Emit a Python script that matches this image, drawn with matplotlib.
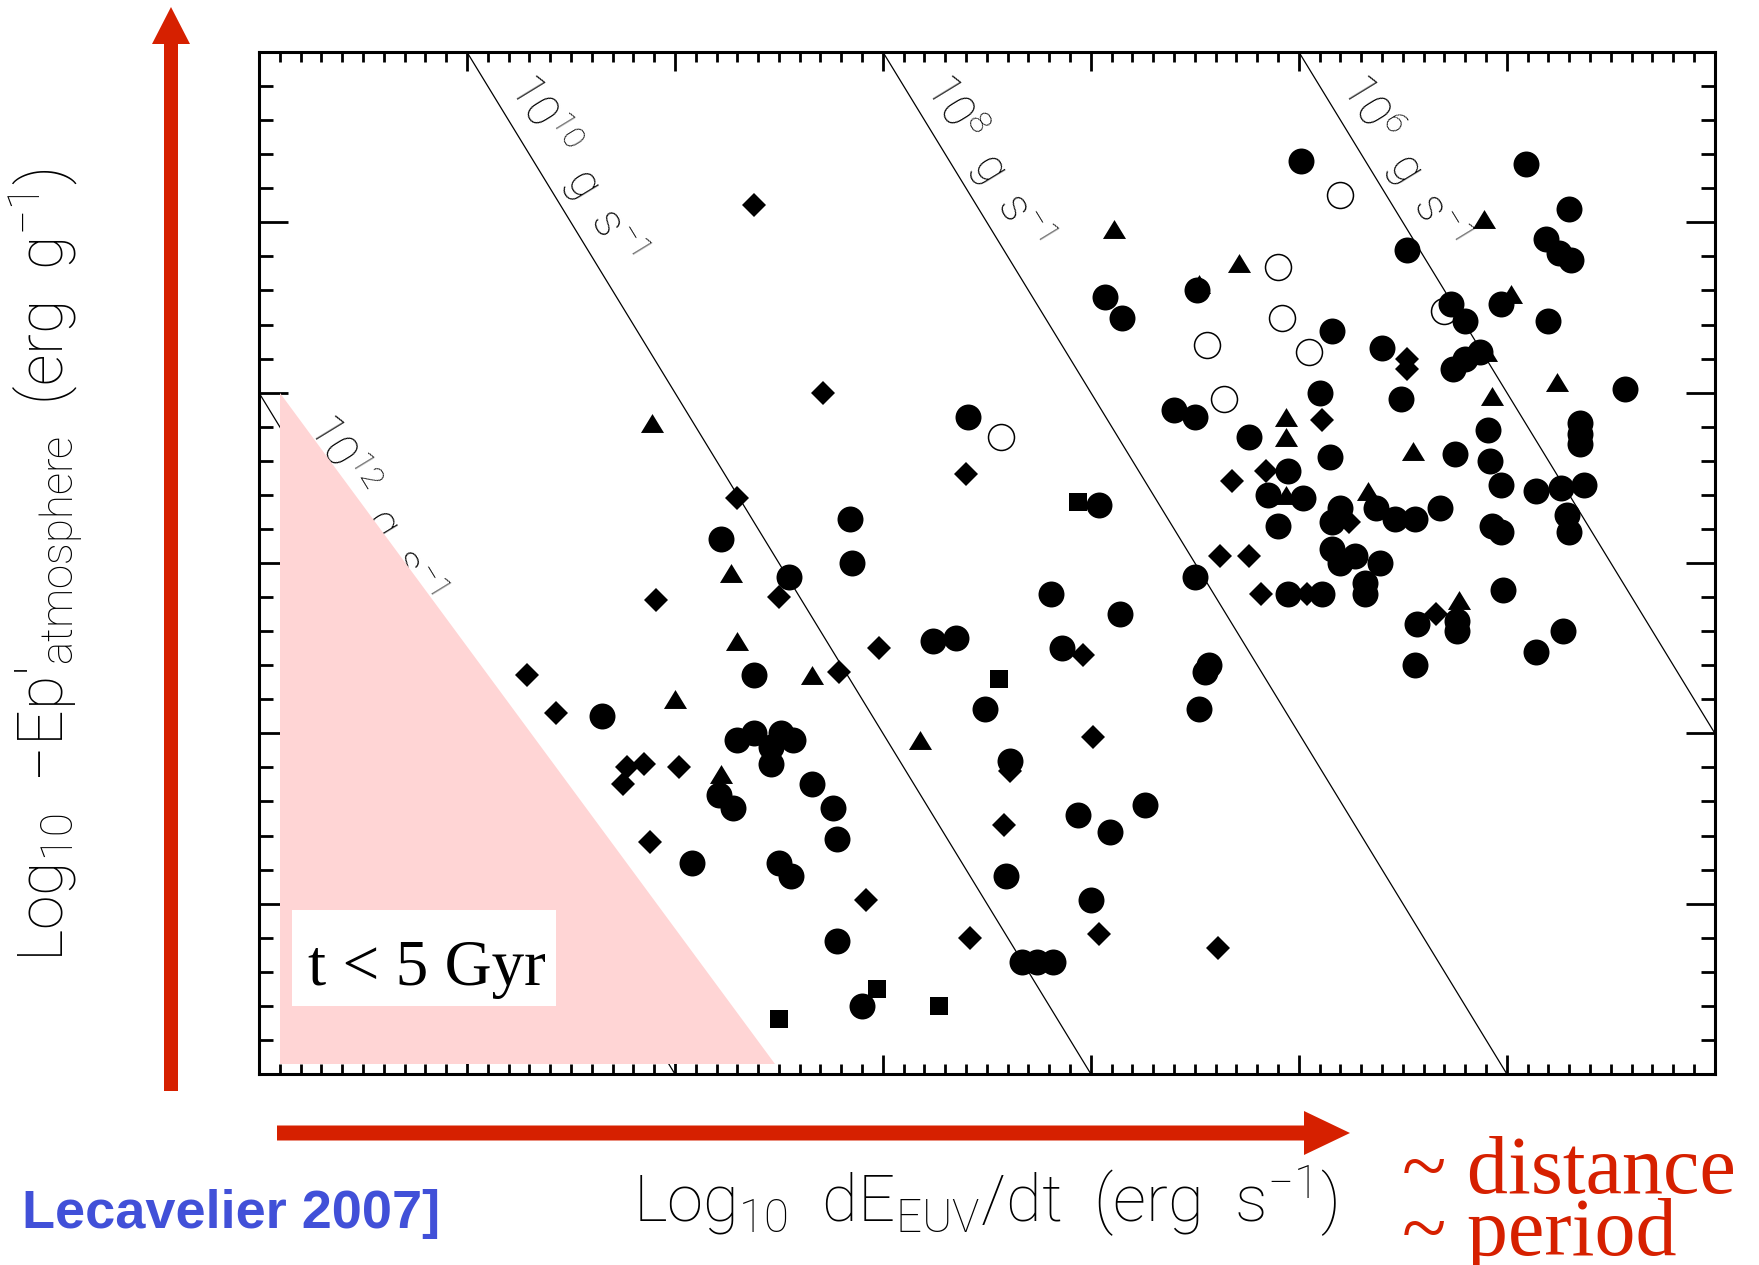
import numpy as np
import matplotlib
matplotlib.use('Agg')
import matplotlib.pyplot as plt
from matplotlib.patches import Polygon, Rectangle, FancyArrow
from matplotlib.ticker import MultipleLocator

plt.rcParams['mathtext.fontset'] = 'custom'
plt.rcParams['mathtext.rm'] = 'Roboto:light'
plt.rcParams['mathtext.it'] = 'Roboto:light'
plt.rcParams['mathtext.default'] = 'rm'

# log10 dE_EUV/dt (erg/s) vs log10 -Ep' (erg/g), one list pair per symbol
circ_x = [20.99, 19.91, 19.70, 20.48, 19.81, 19.75, 19.69, 21.49, 21.93, 21.85,
          20.27, 20.20, 20.03, 19.80, 20.84, 20.60, 20.26, 20.20, 20.13, 19.43,
          20.90, 21.60, 21.50, 20.51, 22.59, 21.24, 20.09, 19.65, 19.65, 19.65,
          20.85, 20.25, 20.08, 21.05, 21.15, 20.98, 20.03, 19.86, 19.74, 19.63,
          21.96, 20.80, 20.84, 20.63, 20.54, 20.44, 20.32, 21.10, 20.07, 20.03,
          19.71, 19.70, 20.84, 20.80, 20.73, 20.61, 20.68, 20.68, 21.50, 21.05,
          20.89, 20.02, 20.43, 20.24, 20.24, 19.73, 19.86, 20.44, 21.43, 21.45,
          21.48,
          23.16, 23.78, 23.15, 23.45, 22.19, 21.86, 22.76, 22.65, 22.14, 23.62,
          24.35, 22.51, 23.70, 23.62, 23.54, 23.49, 23.43, 23.54, 22.39, 21.74,
          22.06, 21.91, 23.34, 23.79, 23.72, 23.24, 23.22, 23.92, 23.50, 23.44,
          22.41, 22.00, 23.22, 22.33, 22.26, 22.18, 23.10]
circ_y = [14.68, 14.67, 14.54, 14.42, 14.45, 14.41, 14.39, 14.30, 14.28, 14.22,
          14.26, 14.21, 14.26, 14.21, 14.18, 14.13, 14.07, 14.10, 14.12, 14.01,
          14.00, 13.95, 13.93, 13.98, 13.93, 13.87, 13.89, 13.91, 13.88, 13.85,
          13.81, 13.82, 13.80, 13.77, 13.70, 13.69, 13.73, 13.71, 13.72, 13.73,
          13.67, 13.66, 13.62, 13.66, 13.63, 13.63, 13.66, 13.61, 13.61, 13.59,
          13.64, 13.59, 13.54, 13.50, 13.52, 13.50, 13.44, 13.41, 13.46, 13.41,
          13.41, 13.42, 13.32, 13.33, 13.30, 13.30, 13.24, 13.20, 13.20, 13.18,
          13.07,
          13.63, 13.57, 13.50, 13.46, 13.41, 13.35, 13.27, 13.28, 13.25, 13.17,
          13.05, 13.07, 12.98, 13.00, 12.96, 13.00, 12.98, 12.91, 12.92, 12.79,
          12.76, 12.71, 12.85, 12.82, 12.78, 12.78, 12.69, 12.62, 12.62, 12.58,
          12.58, 12.51, 12.39, 12.33, 12.33, 12.33, 12.20]

open_x = [20.80, 21.10, 21.08, 21.44, 20.95, 21.36, 22.43, 20.30]
open_y = [14.58, 14.37, 14.22, 14.14, 14.12, 13.98, 13.87, 14.24]

tri_x = [21.89, 21.48, 21.29, 20.11, 19.98, 20.10, 20.07, 19.76, 21.06, 21.06,
         20.45, 20.67, 21.06, 20.23, 24.11, 23.73, 23.70, 23.34, 24.00, 23.78, 22.82]
tri_y = [14.48, 14.32, 14.38, 14.51, 14.29, 14.12, 13.99, 14.03, 13.93, 13.87,
         13.83, 13.71, 13.70, 13.39, 13.91, 13.47, 13.27, 13.17, 13.10, 12.88, 12.98]

dia_x = [23.62, 23.29, 23.70, 24.09, 23.50, 23.21, 23.02, 24.71, 24.57, 24.23,
         24.15, 24.25, 23.98, 24.12, 23.08, 22.58, 22.60, 22.04, 21.99, 22.39,
         22.42, 21.96, 21.39, 20.48, 20.48, 20.89, 21.32, 21.16, 20.76, 21.38,
         21.24, 21.18, 20.96, 20.34]
dia_y = [14.55, 14.00, 13.69, 13.39, 13.40, 13.18, 13.25, 13.17, 13.06, 12.90,
         12.91, 12.85, 12.90, 12.68, 12.51, 12.40, 13.76, 13.23, 12.99, 12.89,
         12.73, 12.41, 12.37, 14.10, 14.07, 13.92, 13.74, 13.77, 13.62, 13.52,
         13.52, 13.41, 13.41, 13.35]

sq_x = [22.06, 22.44, 23.03, 22.73, 23.50]
sq_y = [13.68, 13.16, 12.25, 12.20, 12.16]

# lines of constant escape rate, log10 dm/dt in g/s
mdot_log = [12, 10, 8, 6]

# region where lifetime is below 5 Gyr
young_x = [25.90, 25.90, 23.52]
young_y = [14.00, 12.03, 12.03]

RED = '#d62000'
THIN = dict(family='Roboto', weight='light')

fig = plt.figure(figsize=(17.59, 12.65), dpi=100)
ax = fig.add_axes([0.1472, 0.1510, 0.8277, 0.8079])
ax.set_xlim(26, 19)
ax.set_ylim(12, 15)

for m in mdot_log:
    xs = np.array([18.0, 28.0])
    ax.plot(xs, xs - m, color='k', lw=0.9, zorder=1.5)

# rotate labels along the lines
p1 = ax.transData.transform((22.0, 14.0))
p2 = ax.transData.transform((21.0, 13.0))
ang = np.degrees(np.arctan2(p2[1] - p1[1], p2[0] - p1[0]))
for m in mdot_log:
    y0 = 13.90 if m == 12 else 14.90
    gap = 0.13 if m == 12 else 0.094
    ax.text(y0 + m - gap, y0, r'10$^{%d}$  g  s$^{-1}$' % m, rotation=ang,
            rotation_mode='anchor', ha='left', va='baseline', fontsize=33,
            color='k', zorder=1.6, **THIN)

ax.add_patch(Polygon(np.column_stack([young_x, young_y]), closed=True,
                     facecolor='#ffd5d5', edgecolor='none', zorder=2))
ax.add_patch(Rectangle((24.57, 12.20), 1.27, 0.28, facecolor='white',
                       edgecolor='none', zorder=5))
ax.text(25.19, 12.26, 't < 5 Gyr', family='Liberation Serif', fontsize=47,
        ha='center', va='baseline', zorder=6)

ax.plot(open_x, open_y, 'o', ms=18.7, mfc='none', mec='k', mew=1.1, zorder=3)
ax.plot(circ_x, circ_y, 'o', ms=18.7, color='k', mew=0, zorder=4)
tri = [(-1, -0.82), (1, -0.82), (0, 0.82)]
ax.plot(tri_x, tri_y, marker=tri, ls='none', ms=16.6, color='k', mew=0, zorder=4)
ax.plot(dia_x, dia_y, 'D', ms=12.7, color='k', mew=0, zorder=4)
ax.plot(sq_x, sq_y, 's', ms=13.5, color='k', mew=0, zorder=4)

ax.xaxis.set_major_locator(MultipleLocator(1))
ax.xaxis.set_minor_locator(MultipleLocator(0.1))
ax.yaxis.set_major_locator(MultipleLocator(0.5))
ax.yaxis.set_minor_locator(MultipleLocator(0.1))
ax.tick_params(axis='both', which='both', direction='in', width=2,
               top=True, bottom=True, left=True, right=True,
               labelbottom=False, labelleft=False)
ax.tick_params(axis='x', which='major', length=13.7)
ax.tick_params(axis='x', which='minor', length=7.2)
ax.tick_params(axis='y', which='major', length=21)
ax.tick_params(axis='y', which='minor', length=10)
for s in ax.spines.values():
    s.set_linewidth(2.2)

# pixel-space layer for arrows and outer captions
ov = fig.add_axes([0, 0, 1, 1], zorder=-1)
ov.set_xlim(0, 1759)
ov.set_ylim(1265, 0)
ov.axis('off')
ov.add_patch(FancyArrow(171, 1091, 0, -1084, width=14, head_width=38,
                        head_length=37, length_includes_head=True,
                        color=RED, lw=0))
ov.add_patch(FancyArrow(277, 1133, 1073, 0, width=15, head_width=44,
                        head_length=46, length_includes_head=True,
                        color=RED, lw=0))

ov.text(985, 1223, r'Log$_{10}$  dE$_{\rm EUV}$/dt  (erg  s$^{-1}$)',
        ha='center', va='baseline', fontsize=47, **THIN)
ov.text(46, 565, r"Log$_{10}$  $-$Ep$'_{\rm atmosphere}$  (erg  g$^{-1}$)",
        rotation=90, ha='center', va='center', fontsize=45, **THIN)
ov.text(22, 1228, 'Lecavelier 2007]', color='#4150d8', fontsize=39,
        fontweight='bold', family='Liberation Sans', va='baseline')
ov.text(1402, 1193, '~ distance', color=RED, family='Liberation Serif',
        fontsize=59, va='baseline')
ov.text(1402, 1255, '~ period', color=RED, family='Liberation Serif',
        fontsize=59, va='baseline')

fig.savefig('out.png', dpi=100, facecolor='white')
